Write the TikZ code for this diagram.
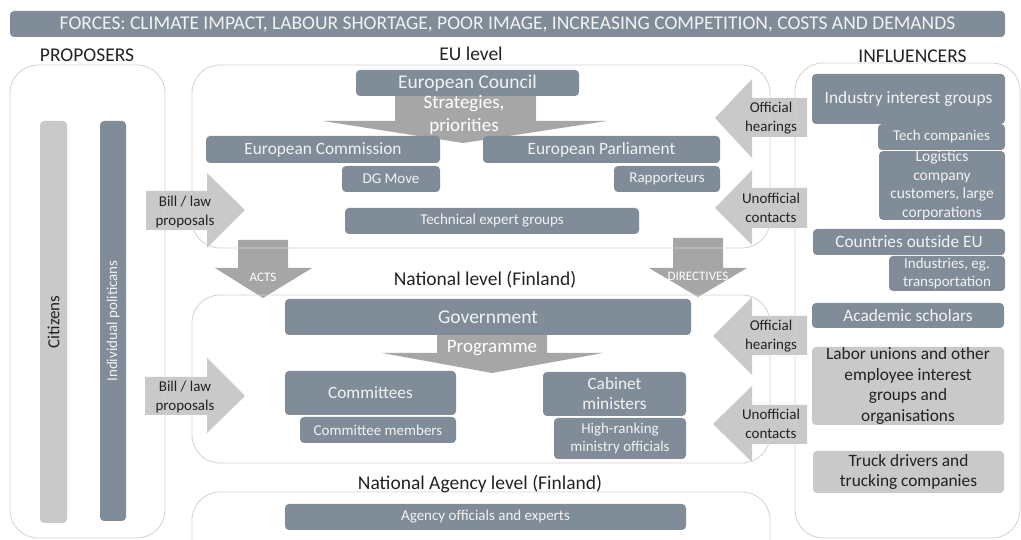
\documentclass[tikz,border=0pt]{standalone}
\usepackage{fontspec}
\setmainfont{Carlito}
\definecolor{boxblue}{HTML}{808C98}
\definecolor{boxtext}{HTML}{F2F2F2}
\definecolor{lightfill}{HTML}{C9C9C9}
\definecolor{darkfill}{HTML}{A6A6A6}
\definecolor{panelline}{HTML}{D2D2D2}
\definecolor{inktext}{HTML}{222222}
\newcommand{\txtsize}[2]{\fontsize{#1bp}{#2bp}\selectfont}
\begin{document}
\begin{tikzpicture}[>=latex,line join=bevel,
  box/.style={rectangle,rounded corners=4bp,fill=boxblue,text=boxtext,inner sep=0pt,align=center},
  lbox/.style={rectangle,rounded corners=4bp,fill=lightfill,text=inktext,inner sep=0pt,align=center},
  panel/.style={draw=panelline,line width=0.8bp,rounded corners=28bp},
  heading/.style={text=inktext,inner sep=0pt,font=\txtsize{19.5}{23}},
  big/.style={font=\txtsize{17.3}{20.5}},
  small/.style={font=\txtsize{15}{18.5}},
  inlabel/.style={inner sep=0pt,align=center,text=inktext,font=\txtsize{15}{19}},
  outlabel/.style={inner sep=0pt,align=center,text=white},
]
\useasboundingbox (0bp,0bp) rectangle (1021bp,540bp);
\clip (0bp,0bp) rectangle (1021bp,540bp);
%% block arrows
\fill [darkfill] (395bp,450bp) -- (536bp,450bp) -- (536bp,419bp) -- (607bp,419bp) -- (463bp,397bp) -- (323bp,419bp) -- (395bp,419bp) -- cycle;
\fill [darkfill] (437bp,210bp) -- (547bp,210bp) -- (547bp,187bp) -- (603bp,187bp) -- (492bp,167bp) -- (382bp,187bp) -- (437bp,187bp) -- cycle;
\fill [darkfill] (238bp,300bp) -- (288bp,300bp) -- (288bp,272bp) -- (312bp,272bp) -- (263bp,242bp) -- (215bp,272bp) -- (238bp,272bp) -- cycle;
\fill [darkfill] (673bp,302bp) -- (723bp,302bp) -- (723bp,272bp) -- (747bp,272bp) -- (698bp,243bp) -- (649bp,272bp) -- (673bp,272bp) -- cycle;
\fill [lightfill] (146bp,349bp) -- (207bp,349bp) -- (207bp,367bp) -- (245bp,330bp) -- (207bp,292bp) -- (207bp,310bp) -- (146bp,310bp) -- cycle;
\fill [lightfill] (145bp,163bp) -- (207bp,163bp) -- (207bp,182bp) -- (245bp,144bp) -- (207bp,107bp) -- (207bp,125bp) -- (145bp,125bp) -- cycle;
\fill [lightfill] (807bp,442bp) -- (752bp,442bp) -- (752bp,461bp) -- (715bp,422bp) -- (752bp,382bp) -- (752bp,403bp) -- (807bp,403bp) -- cycle;
\fill [lightfill] (807bp,352bp) -- (752bp,352bp) -- (752bp,370bp) -- (715bp,332bp) -- (752bp,295bp) -- (752bp,312bp) -- (807bp,312bp) -- cycle;
\fill [lightfill] (807bp,224bp) -- (752bp,224bp) -- (752bp,243bp) -- (713bp,204bp) -- (752bp,165bp) -- (752bp,185bp) -- (807bp,185bp) -- cycle;
\fill [lightfill] (807bp,135bp) -- (752bp,135bp) -- (752bp,154bp) -- (713bp,116bp) -- (752bp,78bp) -- (752bp,96bp) -- (807bp,96bp) -- cycle;
%% group frames
\draw [panel] (10bp,475bp) rectangle (165bp,2bp);
\draw [panel] (192bp,475bp) rectangle (770bp,292bp);
\draw [panel] (192bp,245bp) rectangle (770bp,77bp);
\draw [panel] (192bp,48bp) rectangle (770bp,-30bp);
\draw [panel] (795bp,477bp) rectangle (1020bp,2bp);
%%
\node (forces) at (507.5bp,516bp) [box,minimum width=995bp,minimum height=26bp,font=\txtsize{19.5}{22}] {FORCES: CLIMATE IMPACT, LABOUR SHORTAGE, POOR IMAGE, INCREASING COMPETITION, COSTS AND DEMANDS};
  \node (proposers) at (87bp,485bp) [heading] {PROPOSERS};
  \node (eu_level) at (471bp,486bp) [heading] {EU level};
  \node (influencers) at (912.5bp,484bp) [heading] {INFLUENCERS};
  \node (national_level) at (485bp,260bp) [heading] {National level (Finland)};
  \node (agency_level) at (480bp,56bp) [heading] {National Agency level (Finland)};
%% proposers
\node (citizens) at (53.5bp,218bp) [lbox,rotate=90,minimum width=402bp,minimum height=27bp,font=\txtsize{17}{20}] {Citizens};
  \node (politicians) at (113bp,219bp) [box,rotate=90,minimum width=400bp,minimum height=26bp,small] {Individual politicans};
%% EU level
\node (eu_council) at (467.5bp,457bp) [box,minimum width=223bp,minimum height=26bp,font=\txtsize{19.5}{22}] {European Council};
  \node (eu_commission) at (323bp,390.5bp) [box,minimum width=234bp,minimum height=27bp,big] {European Commission};
  \node (eu_parliament) at (601.5bp,390.5bp) [box,minimum width=237bp,minimum height=27bp,big] {European Parliament};
  \node (dg_move) at (391bp,361bp) [box,minimum width=98bp,minimum height=26bp,small] {DG Move};
  \node (rapporteurs) at (667bp,361bp) [box,minimum width=106bp,minimum height=26bp,small] {Rapporteurs};
  \node (expert_groups) at (492bp,319bp) [box,minimum width=294bp,minimum height=26bp,small] {Technical expert groups};
%% national level
\node (government) at (488bp,223bp) [box,minimum width=406bp,minimum height=36bp,font=\txtsize{19.5}{22}] {Government};
  \node (committees) at (370.5bp,147bp) [box,minimum width=171bp,minimum height=44bp,big] {Committees};
  \node (committee_members) at (378bp,110bp) [box,minimum width=156bp,minimum height=26bp,small] {Committee members};
  \node (cabinet) at (614.5bp,146bp) [box,minimum width=143bp,minimum height=44bp,font=\txtsize{17.3}{20}] {Cabinet\\ministers};
  \node (ministry_officials) at (620bp,101.5bp) [box,minimum width=132bp,minimum height=41bp,font=\txtsize{15}{18}] {High-ranking\\ministry officials};
  \node (agency_officials) at (485.5bp,23bp) [box,minimum width=401bp,minimum height=26bp,small] {Agency officials and experts};
%% influencers
\node (industry) at (908.5bp,441bp) [box,minimum width=193bp,minimum height=50bp,big] {Industry interest groups};
  \node (tech) at (941.5bp,403bp) [box,minimum width=127bp,minimum height=26bp,small] {Tech companies};
  \node (logistics) at (942bp,354.5bp) [box,minimum width=126bp,minimum height=67bp,font=\txtsize{15.5}{18.5}] {Logistics\\company\\customers, large\\corporations};
  \node (outside_eu) at (909bp,298bp) [box,minimum width=192bp,minimum height=26bp,big] {Countries outside EU};
  \node (industries) at (947bp,266.5bp) [box,minimum width=116bp,minimum height=35bp,font=\txtsize{15}{18}] {Industries, eg.\\transportation};
  \node (academics) at (908bp,224.5bp) [box,minimum width=192bp,minimum height=25bp,big] {Academic scholars};
  \node (unions) at (908bp,154bp) [lbox,minimum width=192bp,minimum height=78bp,font=\txtsize{17.3}{20.7}] {Labor unions and other\\employee interest\\groups and\\organisations};
  \node (truckers) at (908.5bp,68bp) [lbox,minimum width=191bp,minimum height=42bp,font=\txtsize{17.3}{20}] {Truck drivers and\\trucking companies};
%% arrow labels
\node (strategies) at (464bp,425bp) [outlabel,font=\txtsize{19}{23.5}] {Strategies,\\priorities};
  \node (programme) at (492bp,192bp) [outlabel,font=\txtsize{19}{22}] {Programme};
  \node (acts) at (263bp,263bp) [outlabel,font=\txtsize{13}{15}] {ACTS};
  \node (directives) at (698bp,264bp) [outlabel,font=\txtsize{13}{15}] {DIRECTIVES};
  \node (bill_eu) at (185bp,328bp) [inlabel] {Bill / law\\proposals};
  \node (bill_national) at (185bp,143bp) [inlabel] {Bill / law\\proposals};
  \node (hearings_eu) at (771bp,421.5bp) [inlabel] {Official\\hearings};
  \node (contacts_eu) at (771bp,332bp) [inlabel] {Unofficial\\contacts};
  \node (hearings_national) at (771bp,204bp) [inlabel] {Official\\hearings};
  \node (contacts_national) at (771bp,116bp) [inlabel] {Unofficial\\contacts};
%
\end{tikzpicture}
\end{document}
